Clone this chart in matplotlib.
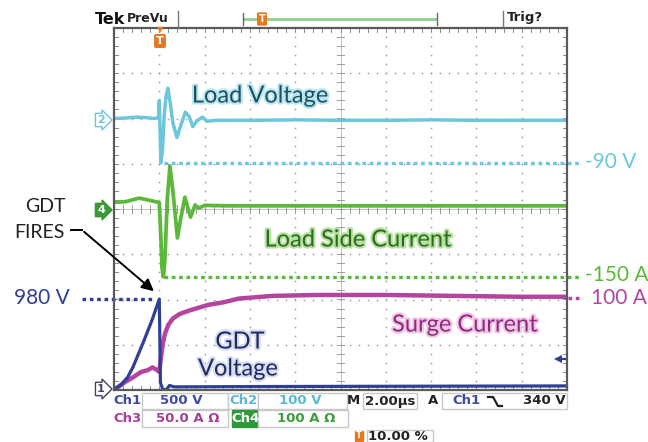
import matplotlib
matplotlib.use("Agg")
import matplotlib.pyplot as plt
import numpy as np
from matplotlib import patheffects as pe
from matplotlib.lines import Line2D
from matplotlib.patches import Rectangle, FancyArrowPatch

# ---------------- data ----------------
# time in microseconds (2 us/div, trigger at 10 %)
ch2_t = [-2.0, -1.5, -1.0, -0.6, -0.2, -0.03, 0.0, 0.07, 0.14, 0.22, 0.30, 0.38, 0.48,
         0.60, 0.78, 0.95, 1.15, 1.32, 1.48, 1.65, 1.90, 2.10, 2.5, 4, 6, 8, 10, 12, 14, 16, 18]
ch2_v = [0, 1, 3, 2, 0, 2, 40, -98, -70, 10, 50, 67, 35,
         -10, -42, -15, 14, 4, -18, -6, 3, -6, -4, -4, -3, -4, -4, -3, -4, -4, -4]   # Load voltage, V

ch4_t = [-2.0, -1.5, -0.9, -0.5, -0.15, 0.0, 0.05, 0.12, 0.18, 0.25, 0.35, 0.47, 0.60,
         0.80, 0.95, 1.13, 1.38, 1.58, 1.75, 2.0, 3, 6, 9, 12, 15, 18]
ch4_i = [15, 16, 24, 20, 16, 14, -40, -130, -150, -110, 20, 95, 40,
         -64, -20, 26, -18, 9, 2, 8, 7, 7, 7, 7, 7, 7]                              # Load side current, A

ch1_t = [-2.0, -1.7, -1.4, -1.16, -0.72, -0.32, 0.0, 0.05, 0.15, 0.30, 0.45, 0.65, 1.0, 4, 8, 12, 18]
ch1_v = [10, 55, 140, 254, 519, 773, 1005, 80, 10, 0, 50, 35, 35, 38, 40, 42, 45]    # GDT voltage, V

ch3_t = [-2.0, -1.5, -1.16, -0.8, -0.5, -0.3, -0.1, 0.0, 0.08, 0.16, 0.26, 0.4, 0.6, 0.9, 1.35,
         2.15, 2.85, 3.5, 5, 7, 10, 13, 16, 18]
ch3_i = [0, 9, 14, 20, 22, 25, 22, 20, 38, 52, 63, 72, 79, 84, 88,
         94, 97, 101, 104, 105, 105, 104, 103, 103]                                  # Surge current, A

# channel settings: (scale per div, offset in div)
ch1_scale, ch1_off = 500, -4
ch2_scale, ch2_off = 100, 2
ch3_scale, ch3_off = 50, -4
ch4_scale, ch4_off = 100, 0

lv_min = -98      # load voltage dip
lc_min = -150     # load side current dip
gdt_fire = 1005   # GDT voltage at firing
surge_end = 102   # surge current plateau
trig_level = 340  # V on ch1

# ---------------- figure ----------------
W, H = 648, 442
fig = plt.figure(figsize=(W / 100, H / 100), dpi=100)
fig.patch.set_facecolor("white")

def fx(x): return x / W
def fy(y): return 1 - y / H

ax = fig.add_axes([fx(114), fy(390), (567 - 114) / W, (390 - 28) / H])
ax.set_xlim(-2, 18)
ax.set_ylim(-4, 4)
ax.set_xticks([]); ax.set_yticks([])
for s in ax.spines.values():
    s.set_color("#5a5a5a"); s.set_linewidth(1.6)

# graticule
gcol = "#a8a8a8"
xmaj = np.arange(-2, 18.01, 2)
ymaj = np.arange(-4, 4.01, 1)
xs_small = np.arange(-2, 18.001, 0.4)
ys_small = np.arange(-4, 4.001, 0.2)
for xm in xmaj[1:-1]:
    if abs(xm - 8) < 1e-6:
        continue
    ax.plot(np.full_like(ys_small, xm), ys_small, ls="none", marker="o", ms=1.3,
            color=gcol, mew=0)
for ym in ymaj[1:-1]:
    if abs(ym) < 1e-6:
        continue
    ax.plot(xs_small, np.full_like(xs_small, ym), ls="none", marker="o", ms=1.3,
            color=gcol, mew=0)
# centre cross with ticks
ax.axvline(8, color="#b5b5b5", lw=0.6)
ax.axhline(0, color="#b5b5b5", lw=0.6)
for yy in ys_small:
    ax.plot([8 - 0.16, 8 + 0.16], [yy, yy], color="#9a9a9a", lw=0.7)
for xx in xs_small:
    ax.plot([xx, xx], [-0.08, 0.08], color="#9a9a9a", lw=0.7)
# edge ticks
for yy in ys_small:
    ax.plot([-2, -2 + 0.16], [yy, yy], color="#8a8a8a", lw=0.7)
    ax.plot([18 - 0.16, 18], [yy, yy], color="#8a8a8a", lw=0.7)
for xx in xs_small:
    ax.plot([xx, xx], [4 - 0.08, 4], color="#8a8a8a", lw=0.7)
    ax.plot([xx, xx], [-4, -4 + 0.08], color="#8a8a8a", lw=0.7)

# colours
c_cyan = "#6cc6dc"
c_green = "#5cb83a"
c_blue = "#2f3f98"
c_mag = "#b3459f"

def y_of(vals, scale, off):
    return np.asarray(vals, float) / scale + off

ax.plot(ch2_t, y_of(ch2_v, ch2_scale, ch2_off), color=c_cyan, lw=2.5, solid_joinstyle="round")
ax.plot(ch4_t, y_of(ch4_i, ch4_scale, ch4_off), color=c_green, lw=2.7, solid_joinstyle="round")
ax.plot(ch3_t, y_of(ch3_i, ch3_scale, ch3_off), color=c_mag, lw=3.2, solid_joinstyle="round")
ax.plot(ch1_t, y_of(ch1_v, ch1_scale, ch1_off), color=c_blue, lw=2.3, solid_joinstyle="round")

# dotted level annotations (extend outside the screen)
dot = dict(lw=2.4, ls=(0, (1.1, 1.1)), clip_on=False, solid_capstyle="butt")
ax.plot([0.2, 18.66], [lv_min / ch2_scale + ch2_off] * 2, color=c_cyan, **dot)
ax.plot([0.2, 18.66], [lc_min / ch4_scale + ch4_off] * 2, color=c_green, **dot)
ax.plot([18.05, 18.66], [surge_end / ch3_scale + ch3_off] * 2, color=c_mag, **dot)
ax.plot([-3.41, -0.32], [gdt_fire / ch1_scale + ch1_off] * 2, color=c_blue, **dot)

# trigger level indicator on right edge
ty = trig_level / ch1_scale + ch1_off
ax.plot([17.6, 17.92], [ty, ty], color=c_blue, lw=1.6)
ax.plot([17.6], [ty], marker="<", ms=6, color=c_blue, mew=0)

# ---------------- text annotations ----------------
FONT = "Lato"
def stroke(col, w=3):
    return [pe.withStroke(linewidth=w, foreground=col)]

fig.text(fx(260), fy(96), "Load Voltage", fontsize=17, family=FONT, color="#1f4f5f",
         ha="center", va="center", path_effects=stroke("#b8e6f2"))
fig.text(fx(358), fy(240), "Load Side Current", fontsize=17, family=FONT, color="#2d6b1e",
         ha="center", va="center", path_effects=stroke("#b5e2a0"))
fig.text(fx(465), fy(325), "Surge Current", fontsize=17, family=FONT, color="#8f2a7e",
         ha="center", va="center", path_effects=stroke("#f0c6e6"))
fig.text(fx(240), fy(342), "GDT", fontsize=17, family=FONT, color="#1c2a5e",
         ha="center", va="center", path_effects=stroke("#d6dcf2"))
fig.text(fx(238), fy(369), "Voltage", fontsize=17, family=FONT, color="#1c2a5e",
         ha="center", va="center", path_effects=stroke("#d6dcf2"))

fig.text(fx(45), fy(207), "GDT", fontsize=14, family=FONT, color="#222222", ha="center", va="center")
fig.text(fx(39), fy(232), "FIRES", fontsize=14, family=FONT, color="#222222", ha="center", va="center")
fig.add_artist(Line2D([fx(71), fx(82)], [fy(230), fy(230)], color="black", lw=1.4))
fig.add_artist(FancyArrowPatch((fx(82), fy(230)), (fx(156), fy(293)),
               transform=fig.transFigure, arrowstyle="-|>", mutation_scale=18,
               color="black", lw=1.4))

fig.text(fx(70), fy(298), "980 V", fontsize=15, family=FONT, color=c_blue, ha="right", va="center")
fig.text(fx(585), fy(162), "-90 V", fontsize=15, family=FONT, color=c_cyan, ha="left", va="center")
fig.text(fx(585), fy(275), "-150 A", fontsize=15, family=FONT, color=c_green, ha="left", va="center")
fig.text(fx(591), fy(298), "100 A", fontsize=15, family=FONT, color=c_mag, ha="left", va="center")

# channel ground markers
def marker(y, txt, face, edge, tcol):
    fig.text(fx(101), fy(y), txt, fontsize=8, weight="bold", color=tcol, ha="center", va="center",
             bbox=dict(boxstyle="rarrow,pad=0.15", fc=face, ec=edge, lw=1))
marker(120, "2", "white", c_cyan, c_cyan)
marker(210, "4", "#3a9a3a", "#3a9a3a", "white")
marker(389, "1", "white", "#444466", "#444466")

# orange trigger marker
orange = "#e8781e"
fig.text(fx(160), fy(30), "\u25BC", fontsize=6, color=orange, ha="center", va="center")
fig.text(fx(160), fy(41), "T", fontsize=8, weight="bold", color="white", ha="center", va="center",
         bbox=dict(boxstyle="round,pad=0.12", fc=orange, ec=orange))

# ---------------- top status bar ----------------
fig.text(fx(95), fy(19), "Tek", fontsize=11.5, weight="bold", color="#111111", ha="left", va="center")
fig.text(fx(127), fy(18), "PreVu", fontsize=9, weight="bold", color="#222222", ha="left", va="center")
fig.add_artist(Line2D([fx(178), fx(178)], [fy(11), fy(27)], color="#777777", lw=1))
fig.add_artist(Line2D([fx(503), fx(503)], [fy(11), fy(27)], color="#777777", lw=1))
fig.add_artist(Line2D([fx(244), fx(436)], [fy(19), fy(19)], color="#8fd08f", lw=2))
for xb in (243, 437):
    fig.add_artist(Line2D([fx(xb), fx(xb)], [fy(13), fy(25)], color="#666666", lw=1))
fig.text(fx(262), fy(19), "T", fontsize=7, weight="bold", color="white", ha="center", va="center",
         bbox=dict(boxstyle="round,pad=0.1", fc=orange, ec=orange))
fig.text(fx(507), fy(18), "Trig?", fontsize=9.5, weight="bold", color="#222222", ha="left", va="center")

# ---------------- bottom readout ----------------
def box(x0, y0, x1, y1, fc="white", ec="#c8c8c8"):
    fig.add_artist(Rectangle((fx(x0), fy(y1)), (x1 - x0) / W, (y1 - y0) / H,
                             transform=fig.transFigure, fc=fc, ec=ec, lw=1))

t_blue = "#3d4ca6"; t_cyan = "#5ab9d3"; t_mag = "#a4409a"; t_green = "#3b9d3b"
rfs = 9.5
box(142, 393, 228, 409); box(228, 393, 258, 409); box(258, 393, 347, 409)
box(363, 393, 417, 409); box(442, 393, 567, 409)
box(142, 410, 228, 427); box(232, 410, 258, 427, fc="#2f9a3a", ec="#2f9a3a"); box(258, 410, 348, 427)
box(367, 430, 433, 442)

fig.text(fx(113), fy(401), "Ch1", fontsize=rfs, weight="bold", color=t_blue, ha="left", va="center")
fig.text(fx(181), fy(401), "500 V", fontsize=rfs, weight="bold", color=t_blue, ha="center", va="center")
fig.text(fx(243), fy(401), "Ch2", fontsize=rfs, weight="bold", color=t_cyan, ha="center", va="center")
fig.text(fx(300), fy(401), "100 V", fontsize=rfs, weight="bold", color=t_cyan, ha="center", va="center")
fig.text(fx(353), fy(401), "M", fontsize=rfs, weight="bold", color="#222222", ha="center", va="center")
fig.text(fx(390), fy(401), "2.00\u00b5s", fontsize=rfs, weight="bold", color="#222222", ha="center", va="center")
fig.text(fx(433), fy(401), "A", fontsize=rfs, weight="bold", color="#222222", ha="center", va="center")
fig.text(fx(466), fy(401), "Ch1", fontsize=rfs, weight="bold", color=t_blue, ha="center", va="center")
fig.add_artist(Line2D([fx(488), fx(493), fx(498), fx(502)], [fy(397), fy(397), fy(406), fy(406)],
                      color="#222222", lw=1.6))
fig.text(fx(566), fy(401), "340 V", fontsize=rfs, weight="bold", color="#222222", ha="right", va="center")

fig.text(fx(113), fy(418), "Ch3", fontsize=rfs, weight="bold", color=t_mag, ha="left", va="center")
fig.text(fx(188), fy(418), "50.0 A \u03a9", fontsize=rfs, weight="bold", color=t_mag, ha="center", va="center")
fig.text(fx(245), fy(418), "Ch4", fontsize=rfs, weight="bold", color="white", ha="center", va="center")
fig.text(fx(306), fy(418), "100 A \u03a9", fontsize=rfs, weight="bold", color=t_green, ha="center", va="center")

fig.text(fx(359), fy(436), "T", fontsize=6, weight="bold", color="white", ha="center", va="center",
         bbox=dict(boxstyle="square,pad=0.1", fc=orange, ec=orange))
fig.text(fx(398), fy(436), "10.00 %", fontsize=rfs, weight="bold", color="#222222", ha="center", va="center")

fig.savefig("out.png", dpi=100, facecolor="white")
